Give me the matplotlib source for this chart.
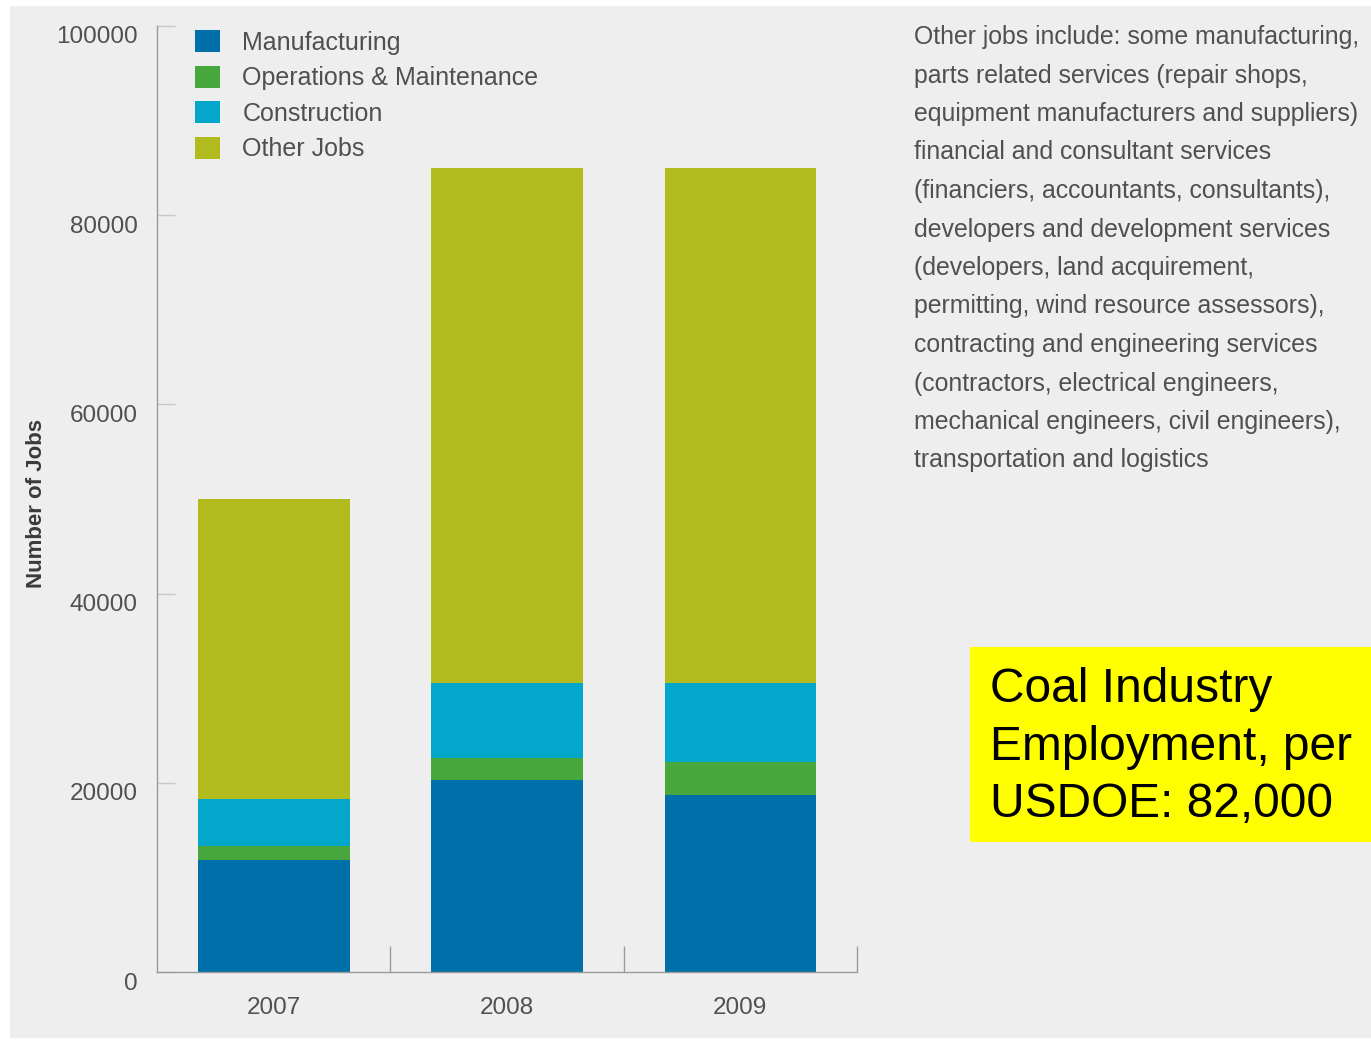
import matplotlib
matplotlib.use("Agg")
import matplotlib.pyplot as plt
from matplotlib.patches import Rectangle, Patch
from matplotlib.transforms import ScaledTranslation
import numpy as np

# Wind industry jobs by year, stacked by category
years = ["2007", "2008", "2009"]
manufacturing = [11800, 20300, 18700]
operations = [1500, 2300, 3500]
construction = [5000, 8000, 8400]
other_jobs = [31700, 54400, 54400]

series_names = ["Manufacturing", "Operations & Maintenance", "Construction", "Other Jobs"]
series_colors = ["#0070AA", "#48A83E", "#05A6CC", "#B2BB1E"]

y_ticks = [0, 20000, 40000, 60000, 80000, 100000]

note_lines = [
    "Other jobs include: some manufacturing,",
    "parts related services (repair shops,",
    "equipment manufacturers and suppliers)",
    "financial and consultant services",
    "(financiers, accountants, consultants),",
    "developers and development services",
    "(developers, land acquirement,",
    "permitting, wind resource assessors),",
    "contracting and engineering services",
    "(contractors, electrical engineers,",
    "mechanical engineers, civil engineers),",
    "transportation and logistics",
]

callout_lines = ["Coal Industry", "Employment, per", "USDOE: 82,000"]

W, H = 1371, 1041
plt.rcParams["font.family"] = ["Liberation Sans", "DejaVu Sans"]
TXT = "#505050"
AXC = "#9a9a9a"
BG = "#EEEEEE"

fig = plt.figure(figsize=(W / 100, H / 100), dpi=100, facecolor="white")


def fx(px):
    return px / W


def fy(py):
    return 1 - py / H


# light grey panel behind everything
fig.patches.append(Rectangle((fx(10), fy(1038)), fx(W) - fx(10), fy(6) - fy(1038),
                             transform=fig.transFigure, facecolor=BG,
                             edgecolor="none", zorder=-5))

ax = fig.add_axes([fx(157), fy(972), fx(857) - fx(157), fy(26) - fy(972)])
ax.set_zorder(2)
ax.patch.set_alpha(0)

x = np.arange(len(years))
stack = [manufacturing, operations, construction, other_jobs]
bottom = np.zeros(len(years))
handles = []
for vals, name, col in zip(stack, series_names, series_colors):
    ax.bar(x, vals, width=0.65, bottom=bottom, color=col, edgecolor="none",
           label=name, zorder=2)
    bottom += np.array(vals)
    handles.append(Patch(facecolor=col, edgecolor="none", label=name))

ax.set_xlim(-0.5, len(years) - 0.5)
ax.set_ylim(0, 100000)

for s in ["top", "right"]:
    ax.spines[s].set_visible(False)
for s in ["left", "bottom"]:
    ax.spines[s].set_color(AXC)
    ax.spines[s].set_linewidth(1.0)

ax.set_yticks(y_ticks)
ax.set_yticklabels([str(v) for v in y_ticks])
ax.tick_params(axis="y", direction="in", length=13, width=1.0, color="#c8c8c8",
               pad=14, labelsize=17.5, labelcolor=TXT)
# y labels sit a little below their tick marks
drop = ScaledTranslation(0, -0.09, fig.dpi_scale_trans)
for lab in ax.get_yticklabels():
    lab.set_transform(lab.get_transform() + drop)

ax.set_xticks(x)
ax.set_xticklabels(years)
ax.tick_params(axis="x", which="major", length=0, pad=18, labelsize=17.5,
               labelcolor=TXT)
ax.set_xticks(np.append(x[:-1] + 0.5, x[-1] + 0.5), minor=True)
ax.tick_params(axis="x", which="minor", direction="in", length=19, width=1.0,
               color=AXC)

fig.text(fx(37), fy(503), "Number of Jobs", rotation=90, ha="center",
         va="center", fontsize=16, fontweight="bold", color="#3a3a3a")

ax.legend(handles=handles, loc="upper left",
          bbox_to_anchor=(fx(195), fy(30)), bbox_transform=fig.transFigure,
          frameon=False, fontsize=18, handlelength=1.0, handleheight=1.0,
          labelspacing=0.43, handletextpad=0.9, borderpad=0, borderaxespad=0,
          labelcolor=TXT)

# explanatory note on the right
for i, line in enumerate(note_lines):
    fig.text(fx(914), fy(37 + i * 38.5), line, ha="left", va="center",
             fontsize=17.9, color=TXT)

# yellow callout
fig.patches.append(Rectangle((fx(970), fy(842)), fx(W) - fx(970), fy(647) - fy(842),
                             transform=fig.transFigure, facecolor="#FFFF00",
                             edgecolor="none", zorder=1))
for i, line in enumerate(callout_lines):
    fig.text(fx(990), fy(702 + i * 57.5), line, ha="left", va="baseline",
             fontsize=34.5, color="black", zorder=3)

fig.savefig("out.png", dpi=100, facecolor=fig.get_facecolor())
